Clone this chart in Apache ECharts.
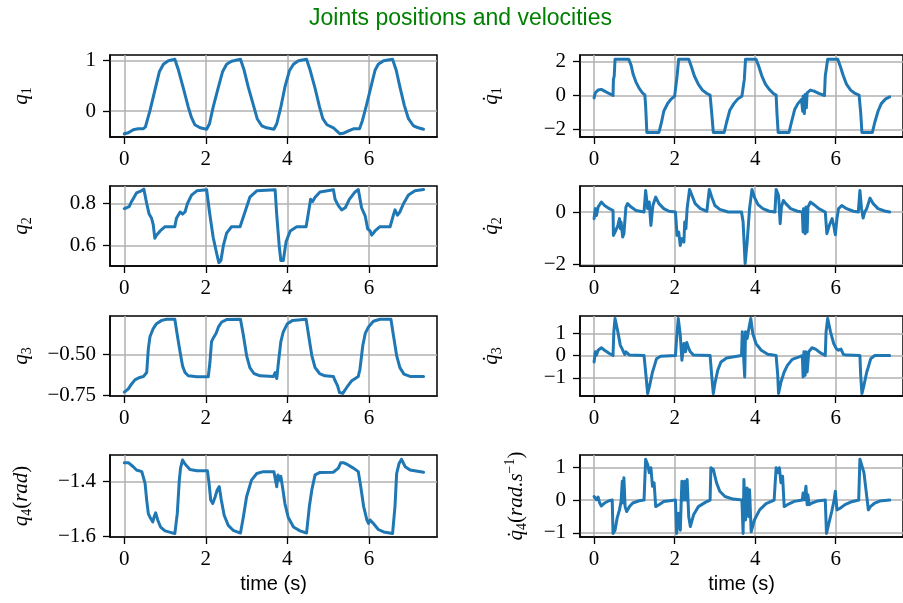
<!DOCTYPE html>
<html>
<head>
<meta charset="utf-8">
<script src="https://cdn.jsdelivr.net/npm/echarts@6/dist/echarts.min.js"></script>
<style>html,body{margin:0;padding:0;background:#fff}#chart{width:903px;height:603px}</style>
</head>
<body>
<div id="chart"></div>
<script>
// ===== Data: [time (s), value]
const q1 = [[0,-0.45],[0.10,-0.43],[0.22,-0.37],[0.34,-0.35],[0.47,-0.35],[0.52,-0.31],[0.63,0.01],[0.75,0.41],[0.86,0.78],[0.96,0.93],[1.08,1.00],[1.24,1.03],[1.33,0.81],[1.45,0.45],[1.57,0.08],[1.65,-0.13],[1.73,-0.27],[1.86,-0.33],[2.02,-0.36],[2.09,-0.25],[2.18,0.08],[2.31,0.48],[2.41,0.78],[2.51,0.93],[2.63,0.99],[2.85,1.03],[2.94,0.81],[3.04,0.48],[3.17,0.11],[3.26,-0.15],[3.37,-0.29],[3.49,-0.33],[3.67,-0.36],[3.74,-0.25],[3.84,0.08],[3.94,0.48],[4.05,0.80],[4.15,0.93],[4.27,1.00],[4.47,1.03],[4.56,0.81],[4.68,0.45],[4.79,0.08],[4.87,-0.15],[4.97,-0.27],[5.13,-0.33],[5.21,-0.39],[5.29,-0.45],[5.37,-0.44],[5.50,-0.39],[5.62,-0.35],[5.77,-0.35],[5.84,-0.19],[5.95,0.15],[6.05,0.48],[6.15,0.81],[6.23,0.93],[6.36,1.00],[6.58,1.03],[6.67,0.81],[6.76,0.48],[6.87,0.11],[6.97,-0.15],[7.09,-0.29],[7.21,-0.33],[7.34,-0.36]];
const dq1 = [[0,-0.14],[0.03,0.16],[0.10,0.32],[0.18,0.36],[0.26,0.26],[0.37,0.12],[0.47,0],[0.48,0.95],[0.50,1.15],[0.52,2.14],[0.86,2.14],[0.92,1.78],[0.97,1.25],[1.04,0.79],[1.12,0.42],[1.20,0.16],[1.26,0.04],[1.28,-0.63],[1.31,-2.18],[1.61,-2.18],[1.67,-1.62],[1.73,-0.93],[1.82,-0.50],[1.90,-0.24],[2.00,-0.04],[2.04,0],[2.06,1.15],[2.10,2.14],[2.35,2.14],[2.41,1.74],[2.49,1.15],[2.59,0.65],[2.69,0.32],[2.80,0.12],[2.88,0.02],[2.92,-1.03],[2.96,-2.18],[3.23,-2.18],[3.29,-1.58],[3.37,-0.87],[3.47,-0.48],[3.57,-0.20],[3.67,-0.04],[3.71,0],[3.73,0.95],[3.76,2.14],[4.02,2.14],[4.08,1.78],[4.16,1.19],[4.25,0.69],[4.35,0.36],[4.45,0.12],[4.52,0.02],[4.54,-1.03],[4.57,-2.18],[4.84,-2.18],[4.90,-1.58],[4.98,-0.83],[5.06,-0.48],[5.15,-0.24],[5.16,-0.14],[5.18,-0.93],[5.19,-0.04],[5.22,-1.07],[5.24,0.06],[5.27,-0.73],[5.29,0.16],[5.37,0.32],[5.46,0.26],[5.58,0.12],[5.72,0],[5.74,1.15],[5.80,2.14],[6.05,2.14],[6.11,1.74],[6.19,1.15],[6.27,0.65],[6.37,0.32],[6.48,0.12],[6.58,0.02],[6.62,-1.03],[6.65,-2.18],[6.91,-2.18],[6.97,-1.58],[7.05,-0.93],[7.13,-0.48],[7.24,-0.20],[7.34,-0.08]];
const q2 = [[0,0.776],[0.06,0.78],[0.12,0.785],[0.18,0.81],[0.30,0.85],[0.42,0.86],[0.48,0.868],[0.55,0.80],[0.61,0.75],[0.67,0.73],[0.71,0.70],[0.75,0.635],[0.79,0.65],[0.88,0.67],[1.00,0.69],[1.24,0.69],[1.28,0.73],[1.37,0.76],[1.43,0.75],[1.49,0.76],[1.55,0.80],[1.65,0.84],[1.78,0.86],[2.02,0.865],[2.09,0.76],[2.18,0.64],[2.27,0.56],[2.32,0.52],[2.37,0.53],[2.43,0.60],[2.51,0.66],[2.63,0.69],[2.84,0.69],[2.96,0.76],[3.08,0.83],[3.25,0.86],[3.70,0.865],[3.74,0.745],[3.80,0.60],[3.84,0.53],[3.90,0.53],[3.97,0.62],[4.07,0.67],[4.23,0.69],[4.46,0.69],[4.52,0.76],[4.57,0.82],[4.62,0.81],[4.68,0.83],[4.80,0.855],[5.13,0.865],[5.17,0.82],[5.25,0.79],[5.33,0.77],[5.42,0.78],[5.52,0.82],[5.66,0.855],[5.74,0.866],[5.82,0.78],[5.91,0.74],[5.97,0.68],[6.03,0.67],[6.07,0.65],[6.15,0.67],[6.27,0.69],[6.52,0.69],[6.60,0.745],[6.64,0.77],[6.70,0.745],[6.76,0.76],[6.85,0.80],[6.97,0.84],[7.13,0.86],[7.34,0.866]];
const dq2 = [[0,-0.25],[0.03,0.13],[0.06,-0.13],[0.10,0.19],[0.18,0.38],[0.26,0.25],[0.38,0.13],[0.47,0.06],[0.48,-0.89],[0.52,-0.76],[0.59,-0.51],[0.63,-0.25],[0.65,-0.63],[0.67,-0.38],[0.71,-0.95],[0.74,-0.82],[0.79,0.19],[0.83,0.32],[0.92,0.19],[1.04,0.06],[1.24,0],[1.28,0.82],[1.33,0.13],[1.37,0.38],[1.41,-0.51],[1.46,0.25],[1.53,0.57],[1.61,0.32],[1.73,0.13],[1.86,0.03],[2.02,0],[2.06,-0.89],[2.10,-0.76],[2.14,-1.27],[2.18,-1.01],[2.23,-1.14],[2.25,-0.38],[2.28,-0.63],[2.31,0.13],[2.37,0.86],[2.43,0.63],[2.51,0.32],[2.64,0.13],[2.80,0.03],[2.86,0.86],[2.92,0.57],[3.00,0.25],[3.12,0.10],[3.33,0],[3.66,0],[3.70,-0.38],[3.75,-1.96],[3.80,-1.14],[3.86,0.13],[3.92,0.86],[3.98,0.57],[4.07,0.28],[4.19,0.13],[4.35,0.03],[4.49,0],[4.52,0.86],[4.58,0.63],[4.62,-0.44],[4.65,0.19],[4.70,0.44],[4.76,0.32],[4.88,0.13],[5.05,0.03],[5.17,0],[5.19,-0.76],[5.20,0.13],[5.24,-0.82],[5.26,0.19],[5.29,-0.76],[5.31,0.19],[5.37,0.38],[5.46,0.28],[5.58,0.13],[5.74,0],[5.78,-0.82],[5.84,-0.51],[5.91,-0.25],[5.95,-0.51],[5.99,-0.86],[6.03,-0.25],[6.07,0.13],[6.15,0.25],[6.27,0.13],[6.44,0.03],[6.56,0],[6.60,0.82],[6.64,0.13],[6.68,-0.23],[6.72,0],[6.77,0.13],[6.85,0.53],[6.93,0.32],[7.05,0.13],[7.21,0.04],[7.34,0]];
const q3 = [[0,-0.73],[0.10,-0.71],[0.18,-0.68],[0.26,-0.655],[0.38,-0.64],[0.47,-0.634],[0.55,-0.61],[0.59,-0.465],[0.63,-0.39],[0.71,-0.34],[0.79,-0.31],[0.92,-0.29],[1.04,-0.283],[1.24,-0.283],[1.30,-0.38],[1.37,-0.486],[1.43,-0.57],[1.49,-0.61],[1.57,-0.63],[1.78,-0.636],[2.06,-0.636],[2.10,-0.55],[2.14,-0.42],[2.18,-0.40],[2.25,-0.37],[2.31,-0.33],[2.39,-0.30],[2.51,-0.285],[2.85,-0.283],[2.92,-0.38],[3.00,-0.506],[3.08,-0.58],[3.18,-0.616],[3.33,-0.63],[3.66,-0.634],[3.70,-0.61],[3.74,-0.647],[3.78,-0.55],[3.84,-0.42],[3.90,-0.36],[4.00,-0.31],[4.13,-0.29],[4.46,-0.283],[4.52,-0.38],[4.60,-0.506],[4.68,-0.58],[4.79,-0.616],[4.92,-0.63],[5.13,-0.634],[5.17,-0.66],[5.23,-0.69],[5.28,-0.733],[5.36,-0.738],[5.46,-0.70],[5.58,-0.66],[5.74,-0.634],[5.78,-0.59],[5.85,-0.444],[5.91,-0.37],[5.99,-0.33],[6.11,-0.295],[6.27,-0.283],[6.54,-0.283],[6.60,-0.38],[6.68,-0.506],[6.76,-0.58],[6.86,-0.62],[7.01,-0.634],[7.34,-0.634]];
const dq3 = [[0,-0.29],[0.03,0.17],[0.06,0.02],[0.10,0.24],[0.18,0.35],[0.26,0.24],[0.38,0.09],[0.47,0],[0.49,1.07],[0.52,1.67],[0.59,1.07],[0.65,0.47],[0.69,0.32],[0.73,0.39],[0.76,0.05],[0.79,0.17],[0.88,0.02],[1.24,0],[1.28,-0.74],[1.33,-1.71],[1.38,-1.34],[1.45,-0.74],[1.49,-0.51],[1.55,-0.14],[1.65,-0.03],[2.02,0],[2.05,0.77],[2.09,1.67],[2.14,0.92],[2.18,-0.21],[2.23,0.54],[2.27,0.17],[2.30,0.59],[2.35,0.32],[2.39,0.17],[2.47,0.02],[2.88,0],[2.92,-0.89],[2.96,-1.71],[3.00,-1.26],[3.07,-0.66],[3.15,-0.29],[3.29,-0.11],[3.66,0],[3.68,1.07],[3.71,0.02],[3.74,-0.96],[3.76,1.07],[3.80,0.77],[3.85,1.29],[3.89,1.67],[3.94,0.99],[4.02,0.54],[4.15,0.24],[4.31,0.06],[4.52,0],[4.56,-0.89],[4.58,-1.71],[4.64,-1.19],[4.72,-0.74],[4.80,-0.44],[4.92,-0.17],[5.09,-0.06],[5.17,0],[5.19,-0.96],[5.21,0.17],[5.24,-0.89],[5.26,0.17],[5.29,-0.74],[5.33,0.17],[5.41,0.35],[5.50,0.29],[5.62,0.12],[5.74,0],[5.76,1.07],[5.80,1.67],[5.87,1.07],[5.95,0.54],[6.01,0.32],[6.07,0.24],[6.13,0.29],[6.19,0.05],[6.27,0.02],[6.60,0],[6.62,-0.89],[6.65,-1.71],[6.70,-1.34],[6.77,-0.74],[6.81,-0.51],[6.87,-0.14],[6.97,0],[7.34,0]];
const q4 = [[0,-1.33],[0.10,-1.33],[0.22,-1.345],[0.30,-1.357],[0.43,-1.363],[0.47,-1.366],[0.51,-1.406],[0.55,-1.467],[0.59,-1.517],[0.63,-1.53],[0.70,-1.547],[0.73,-1.53],[0.77,-1.514],[0.82,-1.54],[0.89,-1.566],[1.00,-1.58],[1.24,-1.59],[1.30,-1.517],[1.35,-1.394],[1.38,-1.35],[1.43,-1.32],[1.49,-1.335],[1.61,-1.355],[1.78,-1.36],[2.04,-1.36],[2.08,-1.406],[2.12,-1.467],[2.17,-1.48],[2.23,-1.455],[2.28,-1.43],[2.33,-1.418],[2.38,-1.467],[2.45,-1.523],[2.55,-1.56],[2.67,-1.578],[2.85,-1.588],[2.92,-1.53],[3.00,-1.455],[3.12,-1.394],[3.25,-1.37],[3.41,-1.363],[3.67,-1.363],[3.71,-1.394],[3.74,-1.418],[3.77,-1.375],[3.80,-1.394],[3.84,-1.38],[3.88,-1.418],[3.94,-1.48],[4.02,-1.53],[4.15,-1.566],[4.31,-1.58],[4.47,-1.588],[4.54,-1.49],[4.60,-1.43],[4.68,-1.375],[4.80,-1.366],[5.13,-1.365],[5.25,-1.35],[5.31,-1.33],[5.37,-1.33],[5.45,-1.335],[5.62,-1.35],[5.74,-1.363],[5.80,-1.418],[5.87,-1.49],[5.95,-1.54],[5.99,-1.553],[6.03,-1.54],[6.11,-1.553],[6.23,-1.575],[6.36,-1.584],[6.58,-1.59],[6.64,-1.49],[6.68,-1.37],[6.74,-1.333],[6.80,-1.318],[6.89,-1.345],[7.01,-1.357],[7.34,-1.365]];
const dq4 = [[0,0.11],[0.03,0.06],[0.06,0.01],[0.10,0.09],[0.14,-0.09],[0.18,-0.18],[0.26,-0.09],[0.37,-0.02],[0.45,0],[0.47,-1.02],[0.52,-0.92],[0.57,-0.56],[0.63,-0.30],[0.67,-0.04],[0.70,0.58],[0.72,-0.09],[0.74,0.68],[0.77,-0.20],[0.81,-0.35],[0.88,-0.20],[0.96,-0.09],[1.12,-0.02],[1.24,0],[1.28,1.25],[1.33,1.09],[1.37,0.84],[1.41,0.99],[1.45,0.42],[1.49,0.53],[1.53,-0.20],[1.61,-0.14],[1.73,-0.04],[2.02,0],[2.05,-1.02],[2.10,-0.40],[2.14,-0.92],[2.18,0.58],[2.22,0],[2.25,0.58],[2.28,0],[2.31,0.63],[2.35,-0.51],[2.39,-0.81],[2.47,-0.45],[2.59,-0.20],[2.76,-0.07],[2.88,0],[2.90,0.99],[2.96,0.94],[3.04,0.53],[3.12,0.27],[3.25,0.11],[3.45,0.03],[3.67,0],[3.70,-1.02],[3.72,0.63],[3.76,-0.61],[3.80,0.37],[3.84,-0.51],[3.86,0.32],[3.90,-0.97],[3.98,-0.61],[4.11,-0.30],[4.27,-0.11],[4.47,0],[4.52,0.99],[4.56,0.84],[4.60,0.99],[4.64,0.53],[4.68,0.73],[4.72,-0.20],[4.80,-0.14],[4.97,-0.04],[5.17,0],[5.19,0.22],[5.22,0.01],[5.26,0.42],[5.29,-0.14],[5.31,0.16],[5.34,-0.14],[5.41,-0.09],[5.54,-0.03],[5.74,0],[5.77,-1.02],[5.82,-0.76],[5.90,-0.35],[5.96,0],[5.99,0.27],[6.03,-0.30],[6.11,-0.25],[6.23,-0.14],[6.40,-0.05],[6.57,0],[6.60,1.25],[6.64,1.09],[6.70,0.84],[6.75,0.32],[6.81,-0.30],[6.86,-0.20],[6.97,-0.09],[7.09,-0.03],[7.34,0]];

// ===== Ticks / axis ranges
const xTicks = [0, 2, 4, 6];
const xRange = [-0.35, 7.67];
const yTicks = { q1:[0,1], dq1:[-2,0,2], q2:[0.6,0.8], dq2:[-2,0], q3:[-0.75,-0.5], dq3:[-1,0,1], q4:[-1.6,-1.4], dq4:[-1,0,1] };

// ===== Panels (row-major: left = position, right = velocity)
const DOT = 'q\u0307';
const PANELS = [
  { data:q1,  ticks:yTicks.q1,  range:[-0.513,1.113], dec:0, name:'{i|q}{s|1}', gap:76 },
  { data:dq1, ticks:yTicks.dq1, range:[-2.45,2.39],   dec:0, name:'{i|'+DOT+'}{s|1}', gap:76 },
  { data:q2,  ticks:yTicks.q2,  range:[0.504,0.883],  dec:1, name:'{i|q}{s|2}', gap:76 },
  { data:dq2, ticks:yTicks.dq2, range:[-2.05,0.99],   dec:0, name:'{i|'+DOT+'}{s|2}', gap:76 },
  { data:q3,  ticks:yTicks.q3,  range:[-0.754,-0.263],dec:2, name:'{i|q}{s|3}', gap:76 },
  { data:dq3, ticks:yTicks.dq3, range:[-1.82,1.78],   dec:0, name:'{i|'+DOT+'}{s|3}', gap:76 },
  { data:q4,  ticks:yTicks.q4,  range:[-1.6025,-1.302],dec:1, name:'{i|q}{s|4}{n|(}{i|rad}{n|)}', gap:76 },
  { data:dq4, ticks:yTicks.dq4, range:[-1.13,1.38],   dec:0, name:'{i|'+DOT+'}{s|4}{n|(}{i|rad.s}{p|\u22121}{n|)}', gap:51 }
];

const COLS = [110, 580];
const TOPS = [55, 186, 316, 455];
const HEIGHTS = [82, 80, 80, 82];
const W = 327;

const SERIF = 'Liberation Serif';
const fmt = dec => v => (v < 0 ? '\u2212' : '') + Math.abs(v).toFixed(dec);

const nameRich = {
  i: { fontFamily:SERIF, fontStyle:'italic', fontSize:21, lineHeight:26, color:'#000' },
  n: { fontFamily:SERIF, fontSize:21, lineHeight:26, color:'#000' },
  s: { fontFamily:SERIF, fontSize:14, lineHeight:12, verticalAlign:'bottom', color:'#000' },
  p: { fontFamily:SERIF, fontSize:14, lineHeight:12, verticalAlign:'top', color:'#000' }
};

const grids = [], xAxes = [], yAxes = [], series = [];
PANELS.forEach((p, i) => {
  const row = i >> 1, col = i & 1;
  grids.push({ left:COLS[col], top:TOPS[row], width:W, height:HEIGHTS[row],
    show:true, borderColor:'#000', borderWidth:1.5, backgroundColor:'transparent' });
  xAxes.push({
    type:'value', gridIndex:i, min:xRange[0], max:xRange[1], splitNumber:4,
    axisLine:{ show:true, onZero:false, lineStyle:{ color:'#000', width:1.5 } },
    axisTick:{ show:true, length:7, customValues:xTicks, lineStyle:{ color:'#000', width:1.3 } },
    axisLabel:{ customValues:xTicks, margin:12, fontFamily:SERIF, fontSize:21, color:'#000', formatter:fmt(0) },
    splitLine:{ show:true, lineStyle:{ color:'#b0b0b0', width:1.5 } },
    name: row === 3 ? 'time (s)' : '', nameLocation:'middle', nameGap:37,
    nameTextStyle:{ fontFamily:'Liberation Sans', fontSize:20, color:'#000' }
  });
  yAxes.push({
    type:'value', gridIndex:i, min:p.range[0], max:p.range[1],
    axisLine:{ show:true, onZero:false, lineStyle:{ color:'#000', width:1.5 } },
    axisTick:{ show:true, length:7, customValues:p.ticks, lineStyle:{ color:'#000', width:1.3 } },
    axisLabel:{ customValues:p.ticks, margin:14, fontFamily:SERIF, fontSize:21, color:'#000', formatter:fmt(p.dec) },
    splitLine:{ show:true, lineStyle:{ color:'#b0b0b0', width:1.5 } },
    name:p.name, nameLocation:'middle', nameRotate:90, nameGap:p.gap,
    nameTextStyle:{ rich:nameRich }
  });
  series.push({
    type:'line', xAxisIndex:i, yAxisIndex:i, data:p.data,
    showSymbol:false, symbol:'none', clip:true,
    lineStyle:{ color:'#1f77b4', width:3, join:'round', cap:'round' }
  });
});

const chart = echarts.init(document.getElementById('chart'), null, { renderer:'canvas' });
chart.setOption({
  animation:false,
  backgroundColor:'#fff',
  title:{ text:'Joints positions and velocities', left:309, top:7, padding:0,
    textStyle:{ color:'#008000', fontFamily:'Liberation Sans', fontSize:23, fontWeight:'normal' } },
  grid:grids, xAxis:xAxes, yAxis:yAxes, series:series
});
</script>
</body>
</html>
